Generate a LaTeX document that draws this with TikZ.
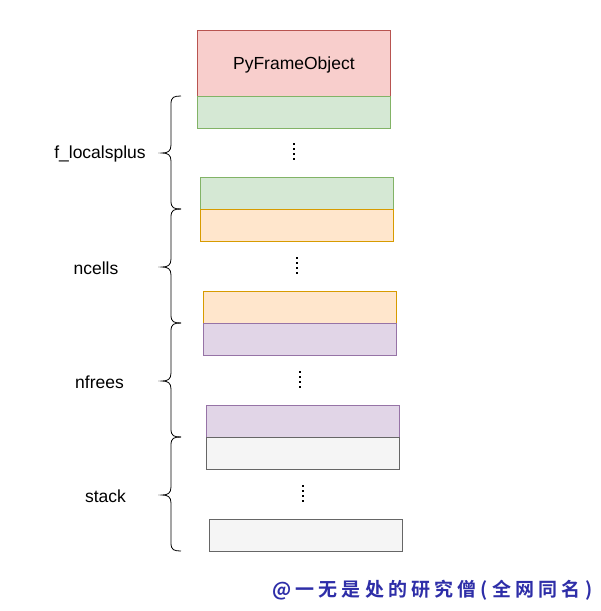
\documentclass[tikz,border=0pt]{standalone}
\usepackage{fontspec}
\setmainfont{Liberation Sans}
\newfontfamily\cjkfont{Noto Sans CJK SC}[BoldFont={* Bold}]
\begin{document}
\begin{tikzpicture}[x=1pt,y=-1pt,
  cellbox/.style={draw,line width=0.8pt,minimum width=193pt,minimum height=32pt,inner sep=0pt,anchor=north west},
  redc/.style={cellbox,fill=redf,draw=redd},
  greenc/.style={cellbox,fill=greenf,draw=greend},
  orangec/.style={cellbox,fill=orangef,draw=oranged},
  purplec/.style={cellbox,fill=purplef,draw=purpled},
  grayc/.style={cellbox,fill=grayf,draw=grayd},
  lbl/.style={font=\fontsize{17.5}{20}\selectfont,inner sep=0pt},
  bracepath/.style={draw,line width=0.8pt},
  dotm/.style={fill=black,inner sep=0pt,minimum size=2.2pt,rectangle}
]
\definecolor{redf}{HTML}{F8CECC}\definecolor{redd}{HTML}{B85450}
\definecolor{greenf}{HTML}{D5E8D4}\definecolor{greend}{HTML}{82B366}
\definecolor{orangef}{HTML}{FFE6CC}\definecolor{oranged}{HTML}{D79B00}
\definecolor{purplef}{HTML}{E1D5E7}\definecolor{purpled}{HTML}{9673A6}
\definecolor{grayf}{HTML}{F5F5F5}\definecolor{grayd}{HTML}{666666}
\definecolor{wm}{HTML}{2E2EA8}
\useasboundingbox (0,0) rectangle (601,611);
\fill[white] (0,0) rectangle (601,611);

% boxes
\node[redc,minimum height=66pt] (pfo) at (197,30) {};
\node[lbl] (pfotext) at ([yshift=-1.5pt]pfo.center) {PyFrameObject};
\node[greenc] (g1) at (197,96) {};
\node[greenc] (g2) at (200,177) {};
\node[orangec] (o1) at (200,209) {};
\node[orangec] (o2) at (203,291) {};
\node[purplec] (p1) at (203,323) {};
\node[purplec] (p2) at (206,405) {};
\node[grayc] (s1) at (206,437) {};
\node[grayc] (s2) at (209,519) {};

% vertical dots
\foreach \x/\y [count=\i] in {294/144,297/258,300/372,303/486}{
  \foreach \k in {0,1,2,3}{
    \node[dotm] (dot\i\k) at (\x,\y+5*\k) {};
  }
}

% braces
\foreach \t/\b/\m in {96/209/153,209/323/267,323/437/381,437/551/495}{
  \draw[bracepath] (181,\t) .. controls (174,\t) and (171,\t+1) .. (171,\t+8)
    -- (171,\m-8) .. controls (171,\m-2) and (168,\m) .. (162,\m)
    .. controls (168,\m) and (171,\m+2) .. (171,\m+8)
    -- (171,\b-8) .. controls (171,\b-1) and (174,\b) .. (181,\b);
}

% labels
\node[lbl] (lab1) at (100,154) {f\_localsplus};
\node[lbl] (lab2) at (96,268) {ncells};
\node[lbl] (lab3) at (99.5,382) {nfrees};
\node[lbl] (lab4) at (105.5,496) {stack};

% watermark
\node[inner sep=0pt,text=wm,anchor=west] (wmark) at (272,590)
  {\cjkfont\bfseries\addfontfeature{LetterSpace=22}\fontsize{19}{21}\selectfont @一无是处的研究僧(全网同名)};
\end{tikzpicture}
\end{document}
